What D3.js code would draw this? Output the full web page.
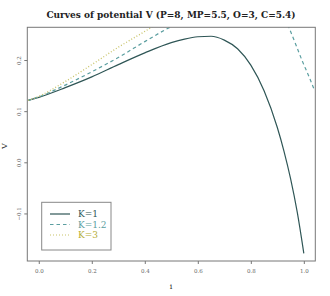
<!DOCTYPE html>
<html>
<head>
<meta charset="utf-8">
<script src="https://cdn.jsdelivr.net/npm/d3@7"></script>
<style>
  body { margin: 0; background: #fff; }
  svg { display: block; font-family: "DejaVu Serif", serif; }
</style>
</head>
<body>
<svg id="chart" width="330" height="296"></svg>
<script>
// values
const iK1 = [-0.04, 0, 0.1, 0.2, 0.3, 0.4, 0.5, 0.55, 0.6, 0.65, 0.7, 0.75, 0.8, 0.85, 0.9, 0.925, 0.95, 0.975, 1.0];
const vK1 = [0.121, 0.127, 0.146, 0.167, 0.191, 0.214, 0.234, 0.241, 0.2455, 0.2465, 0.239, 0.222, 0.190, 0.140, 0.068, 0.022, -0.032, -0.097, -0.178];
const iK12 = [-0.04, 0, 0.1, 0.2, 0.3, 0.4, 0.48, 0.55, 0.65, 0.75, 0.85, 0.9, 0.92, 0.945, 0.97, 0.995, 1.02, 1.04];
const vK12 = [0.121, 0.128, 0.151, 0.177, 0.205, 0.236, 0.260, 0.278, 0.298, 0.308, 0.310, 0.303, 0.290, 0.262, 0.230, 0.197, 0.167, 0.141];
const iK3 = [-0.04, 0, 0.1, 0.2, 0.3, 0.4, 0.45, 0.5];
const vK3 = [0.121, 0.129, 0.158, 0.191, 0.225, 0.256, 0.272, 0.288];
const xTicks = [0, 0.2, 0.4, 0.6, 0.8, 1.0];
const yTicks = [-0.1, 0, 0.1, 0.2];
const labels = ['K=1', 'K=1.2', 'K=3'];
const colors = ['#2f5656', '#5b9ea0', '#c9c46a'];
const textColors = ['#2f5656', '#5b9ea0', '#b5ae35'];
const dashes = [null, '3.5,3', '1,2'];

const svg = d3.select('#chart');
const plotL = 27.3, plotR = 315.3, plotT = 27.3, plotB = 261;
const x = d3.scaleLinear().domain([-0.0433, 1.0433]).range([plotL, plotR]);
const y = d3.scaleLinear().domain([-0.193, 0.264]).range([plotB, plotT]);

svg.append('defs').append('clipPath').attr('id', 'plot')
  .append('rect').attr('x', plotL).attr('y', plotT).attr('width', plotR - plotL).attr('height', plotB - plotT);

const series = [[iK1, vK1], [iK12, vK12], [iK3, vK3]];
const line = d3.line().x((d) => x(d[0])).y((d) => y(d[1])).curve(d3.curveMonotoneX);
const g = svg.append('g').attr('clip-path', 'url(#plot)');
series.forEach(([is, vs], k) => {
  g.append('path')
    .datum(is.map((v, j) => [v, vs[j]]))
    .attr('fill', 'none')
    .attr('stroke', colors[k])
    .attr('stroke-width', k === 2 ? 1.3 : 1.2)
    .attr('stroke-dasharray', dashes[k])
    .attr('d', line);
});

svg.append('rect').attr('x', plotL).attr('y', plotT).attr('width', plotR - plotL).attr('height', plotB - plotT)
  .attr('fill', 'none').attr('stroke', '#777').attr('stroke-width', 1);

const xAxis = svg.append('g').attr('transform', `translate(0,${plotB})`)
  .call(d3.axisBottom(x).tickValues(xTicks).tickFormat(d3.format('.1f')).tickSize(3).tickPadding(5));
const yAxis = svg.append('g').attr('transform', `translate(${plotL},0)`)
  .call(d3.axisLeft(y).tickValues(yTicks).tickFormat(d3.format('.1f')).tickSize(3).tickPadding(5));
[xAxis, yAxis].forEach((a) => {
  a.select('.domain').remove();
  a.selectAll('line').attr('stroke', '#777');
  a.selectAll('text').attr('fill', '#666').style('font-size', '5.5px').style('font-family', '"DejaVu Serif", serif');
});
yAxis.selectAll('text')
  .attr('text-anchor', 'middle')
  .attr('x', null)
  .attr('transform', 'translate(-8,0) rotate(-90)')
  .attr('dy', '0.35em');

svg.append('text').attr('x', 171).attr('y', 289).attr('text-anchor', 'middle')
  .style('font-size', '8px').attr('fill', '#333').text('i');
svg.append('text').attr('transform', 'translate(7,146) rotate(-90)').attr('text-anchor', 'middle')
  .style('font-size', '8px').attr('fill', '#333').text('V');

svg.append('text').attr('x', 171).attr('y', 18).attr('text-anchor', 'middle')
  .style('font-size', '9px').style('font-weight', 'bold').attr('fill', '#222')
  .text('Curves of potential V (P=8, MP=5.5, O=3, C=5.4)');

const legend = svg.append('g');
legend.append('rect').attr('x', 41.7).attr('y', 202.3).attr('width', 69.3).attr('height', 47.7)
  .attr('fill', '#fff').attr('stroke', '#888').attr('stroke-width', 1);
labels.forEach((name, k) => {
  const ly = 214 + k * 10.5;
  legend.append('line').attr('x1', 50).attr('x2', 70).attr('y1', ly).attr('y2', ly)
    .attr('stroke', colors[k]).attr('stroke-width', 1.2).attr('stroke-dasharray', dashes[k]);
  legend.append('text').attr('x', 78).attr('y', ly).attr('dy', '0.35em')
    .style('font-size', '9px').attr('fill', textColors[k]).text(name);
});
</script>
</body>
</html>
